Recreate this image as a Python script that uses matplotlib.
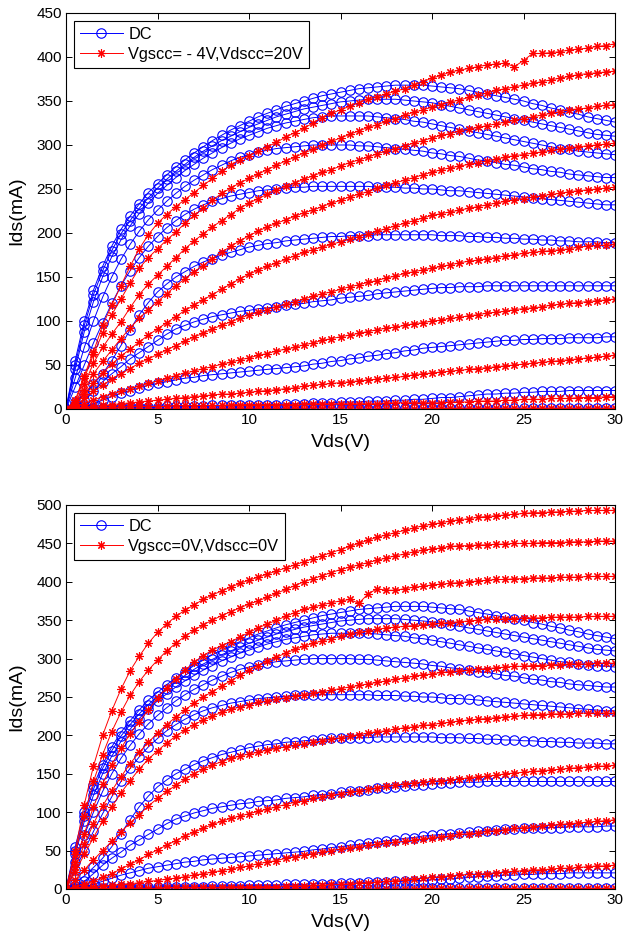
import numpy as np
import matplotlib
matplotlib.use('Agg')
from matplotlib import pyplot as plt

plt.rcParams['font.family'] = ['Liberation Sans', 'DejaVu Sans']

# drain voltage sweep, 0..30 V in 0.5 V steps
vds = np.arange(0, 30.5, 0.5)

# DC curves (same measurement shown in both panels)
dc1 = [0,55,100,135,162,185,204,219,233,246,256,266,275,283,291,298,305,311,317,322,
       327,332,336,340,344,347,350,353,356,358,360,362,364,365,366,367,368,368,368,368,
       367,366,365,364,362,360,358,356,354,352,350,347,345,342,340,337,335,332,330,328,326]
dc2 = [0,50,95,130,157,180,199,214,228,240,251,261,270,278,286,293,299,305,310,315,
       320,324,328,332,335,338,341,343,345,347,349,350,351,352,352,352,352,351,350,349,
       348,346,344,342,340,338,336,334,332,330,328,326,324,322,320,318,316,314,312,311,310]
dc3 = [0,45,88,122,150,173,192,208,222,234,245,254,263,271,278,285,291,297,302,307,
       311,315,319,322,325,327,329,331,332,333,333,333,333,333,332,331,330,329,327,326,
       324,322,320,318,316,314,312,310,308,306,304,302,300,298,296,295,293,292,291,290,289]
dc4 = [0,35,70,100,127,150,170,187,202,215,226,236,245,253,260,266,272,277,282,286,
       289,292,294,296,297,298,299,300,300,300,300,300,299,299,298,297,296,295,294,293,
       291,290,288,287,285,283,282,280,278,277,275,273,272,270,269,267,266,265,264,263,263]
dc5 = [0,25,50,75,98,120,140,157,172,185,196,206,214,221,227,232,236,239,242,244,
       246,248,249,250,251,252,252,253,253,253,253,253,253,253,252,252,252,251,251,250,
       250,249,248,248,247,246,245,244,243,242,241,240,239,238,237,236,235,234,233,232,232]
dc6 = [0,8,17,28,40,55,72,90,107,121,133,142,150,156,162,167,171,175,178,181,
       184,186,188,189,191,192,193,194,195,196,196,197,197,197,198,198,198,198,198,198,
       198,197,197,197,196,196,195,195,194,194,193,193,192,192,191,191,190,190,190,189,189]
dc7 = [0,4,10,20,31,40,48,57,64,71,78,85,91,95,99,102,105,107,109,111,
       112,114,115,116,118,119,120,122,123,124,126,127,128,129,131,132,133,134,135,136,
       137,138,138,139,139,139,140,140,140,140,140,140,140,140,140,140,140,140,140,140,140]
dc8 = [0,1,3,6,10,14,18,21,24,27,29,31,33,35,36,38,39,40,41,42,
       43,44,45,46,47,48,49,51,52,54,55,57,58,60,61,63,64,66,67,69,
       70,71,72,73,74,75,76,77,78,78,79,79,80,80,80,81,81,81,81,82,82]
dc9 = [0,0,1,1,1,1,2,2,2,2,2,3,3,3,3,3,4,4,4,4,
       5,5,5,5,6,6,6,7,7,7,8,8,8,9,9,9,10,10,11,11,
       12,13,13,14,15,16,17,17,18,18,19,19,20,20,20,21,21,21,21,21,21]
dc10 = [0,0,0,0,0,0,0,0,0,0,0,0,0,0,0,0,0,0,0,0,
        0,0,0,0,0,0,0,0,0,0,0,0,0,0,0,1,1,1,1,1,
        1,1,1,1,1,1,1,1,1,1,1,1,1,1,1,1,1,1,1,1,1]

# pulsed curves, Vgscc=-4V, Vdscc=20V
r1 = [0,10,38,65,95,118,140,162,182,198,211,221,230,238,246,254,262,270,277,283,
      288,293,298,303,309,314,319,325,331,336,340,344,348,352,355,358,361,364,368,372,
      376,379,383,385,387,389,391,392,393,389,396,404,404,405,406,408,409,410,412,413,415]
r2 = [0,8,35,62,86,107,125,143,160,172,182,192,201,211,220,228,237,245,251,257,
      262,267,272,277,282,286,291,295,300,304,308,312,316,320,323,327,330,334,337,340,
      343,346,349,351,354,357,359,362,364,366,368,370,372,374,376,378,380,381,382,383,384]
r3 = [0,6,28,52,70,85,99,115,130,142,152,162,172,182,191,199,207,214,221,228,
      234,239,244,249,253,257,261,265,269,272,276,280,283,286,290,293,296,299,302,305,
      308,311,313,316,318,320,322,324,326,328,330,332,334,336,338,340,341,342,344,345,346]
r4 = [0,5,22,40,54,67,80,92,103,113,122,131,140,148,156,163,171,178,185,191,
      197,202,207,211,215,219,223,226,230,234,237,241,244,247,251,254,257,260,263,266,
      269,272,274,276,278,280,282,284,286,288,289,291,292,294,295,297,298,299,300,301,302]
r5 = [0,4,17,30,41,51,60,68,76,84,91,98,105,112,118,124,130,136,142,148,
      153,158,162,166,170,174,178,181,184,187,190,193,196,199,202,205,208,211,214,217,
      220,222,224,226,228,230,232,234,236,238,239,241,242,244,245,247,248,249,250,251,252]
r6 = [0,3,12,20,27,34,40,46,52,57,62,67,72,77,82,86,91,95,99,103,
      107,110,113,116,119,122,125,128,131,133,136,139,141,144,146,149,151,154,156,158,
      160,162,164,166,168,169,171,172,174,175,177,178,179,180,181,182,184,185,186,186,187]
r7 = [0,2,6,10,14,17,20,23,26,29,32,35,38,41,43,46,48,51,53,56,
      58,61,63,66,68,70,73,75,78,80,82,84,86,88,90,92,93,95,97,98,
      100,101,103,104,106,107,109,110,111,113,114,115,116,118,119,120,121,122,123,124,125]
r8 = [0,1,2,3,4,5,6,7,8,9,10,11,12,13,14,15,16,17,17,18,
      19,20,21,22,23,24,26,27,28,29,30,31,32,33,34,35,36,37,39,40,
      41,42,43,44,45,46,47,48,49,50,51,52,53,54,55,56,57,58,59,60,61]
r9 = [0,0,1,1,2,2,2,3,3,3,3,3,4,4,4,4,4,4,5,5,
      5,5,5,5,5,5,6,6,6,6,6,6,6,6,6,7,7,7,7,7,
      7,7,8,8,8,9,9,9,10,10,11,11,11,12,12,12,13,13,13,14,14]
r10 = [0,0,0,0,0,0,0,0,0,0,0,0,0,0,0,0,0,0,0,0,
       0,0,0,0,0,0,0,0,0,0,0,0,0,0,0,0,0,0,0,0,
       1,1,1,1,1,1,1,1,1,1,1,1,1,1,1,1,1,1,1,1,1]

# pulsed curves, Vgscc=0V, Vdscc=0V
rb1 = [0,50,110,160,200,232,260,284,303,320,334,345,355,363,370,377,383,388,393,398,
       402,406,410,414,418,422,426,430,434,438,442,446,450,454,458,461,464,467,470,473,
       475,477,479,481,482,484,485,486,487,488,489,490,490,491,491,492,492,493,493,493,493]
rb2 = [0,45,95,140,175,205,230,252,270,285,298,310,320,329,337,344,350,356,361,366,
       371,375,380,385,390,395,400,404,408,412,416,419,422,425,428,431,434,436,439,441,
       443,444,446,447,447,448,448,449,449,450,450,450,451,451,451,452,452,452,453,453,453]
rb3 = [0,35,72,107,137,162,183,202,218,233,249,262,274,285,295,304,311,317,322,328,
       334,340,345,350,355,360,364,367,370,373,375,377,372,384,391,389,389,391,393,394,
       396,397,398,399,400,401,402,403,403,404,404,405,405,405,406,406,406,407,407,407,407]
rb4 = [0,28,58,85,108,128,146,163,178,191,203,214,224,233,242,250,257,264,271,278,
       285,291,297,302,307,312,316,320,323,326,329,332,334,336,338,340,341,342,343,344,
       345,346,347,348,349,350,351,351,352,352,353,353,353,354,354,354,354,355,355,355,355]
rb5 = [0,22,45,67,88,107,125,141,156,169,180,190,199,207,214,220,225,230,234,237,
       240,243,245,247,249,251,253,255,257,259,261,263,265,267,269,271,273,275,277,279,
       280,282,283,284,285,286,287,288,289,290,290,291,291,292,292,293,293,293,294,294,294]
rb6 = [0,12,25,38,50,62,74,86,97,108,118,127,135,143,150,156,161,166,170,173,
       176,178,181,183,185,187,189,191,193,195,197,199,201,203,205,206,208,210,211,213,
       214,216,217,219,220,221,222,223,224,225,226,227,227,228,228,228,229,229,229,229,229]
rb7 = [0,3,6,10,15,20,26,32,38,45,51,57,63,69,74,79,84,88,92,95,
       98,101,104,107,110,113,115,118,120,122,124,126,128,130,132,134,135,137,138,139,
       140,141,142,143,145,146,147,148,150,151,152,153,154,155,156,157,158,159,160,160,161]
rb8 = [0,1,2,3,4,5,6,7,8,10,11,13,14,16,18,20,22,24,26,28,
       30,33,35,37,40,42,44,46,48,50,52,54,55,57,58,60,61,62,64,65,
       67,68,69,71,72,73,75,76,77,79,80,81,82,83,84,85,86,87,88,89,90]
rb9 = [0,0,0,1,1,1,1,1,1,1,1,2,2,2,2,2,2,2,3,3,
       3,3,3,3,4,4,4,5,5,6,6,7,8,8,9,10,11,12,13,14,
       15,16,17,18,19,19,20,21,22,23,24,25,25,26,27,27,28,29,30,30,31]
rb10 = [0,0,0,0,0,0,0,0,0,0,0,0,0,0,0,0,0,0,0,0,
        0,0,0,0,0,0,0,0,0,0,0,0,0,0,0,0,0,0,0,1,
        1,1,1,1,1,1,1,1,1,1,1,1,1,1,1,1,1,1,1,1,1]

dc_curves = [dc1, dc2, dc3, dc4, dc5, dc6, dc7, dc8, dc9, dc10]
top_pulsed = [r1, r2, r3, r4, r5, r6, r7, r8, r9, r10]
bottom_pulsed = [rb1, rb2, rb3, rb4, rb5, rb6, rb7, rb8, rb9, rb10]

top_label = 'Vgscc= - 4V,Vdscc=20V'
bottom_label = 'Vgscc=0V,Vdscc=0V'

star = (8, 2, 0)


def draw_panel(ax, pulsed, label, ymax):
    for i, y in enumerate(dc_curves):
        ax.plot(vds, y, color='b', lw=0.7, marker='o', ms=6.8, mfc='none',
                mew=0.8, label='DC' if i == 0 else None)
    for i, y in enumerate(pulsed):
        ax.plot(vds, y, color='r', lw=0.7, marker=star, ms=6, mew=0.8,
                label=label if i == 0 else None)
    ax.set_xlim(0, 30)
    ax.set_ylim(0, ymax)
    ax.set_xticks(np.arange(0, 31, 5))
    ax.set_yticks(np.arange(0, ymax + 1, 50))
    ax.tick_params(direction='in', top=True, right=True, length=4, width=0.7,
                   labelsize=11, pad=3)
    for s in ax.spines.values():
        s.set_linewidth(0.8)
    ax.set_xlabel('Vds(V)', fontsize=14, labelpad=5)
    ax.set_ylabel('Ids(mA)', fontsize=14, labelpad=8)
    leg = ax.legend(loc='upper left', fontsize=11.8, fancybox=False, framealpha=1,
                    edgecolor='k', borderaxespad=0.5, handlelength=2.6,
                    handletextpad=0.35, borderpad=0.35, labelspacing=0.3)
    leg.get_frame().set_linewidth(0.8)


fig = plt.figure(figsize=(6.24, 9.39), dpi=100)
ax1 = fig.add_axes([66 / 624, 1 - 409 / 939, 549 / 624, 396 / 939])
ax2 = fig.add_axes([66 / 624, 1 - 889 / 939, 549 / 624, 384 / 939])

draw_panel(ax1, top_pulsed, top_label, 450)
draw_panel(ax2, bottom_pulsed, bottom_label, 500)

fig.savefig('out.png', dpi=100)
